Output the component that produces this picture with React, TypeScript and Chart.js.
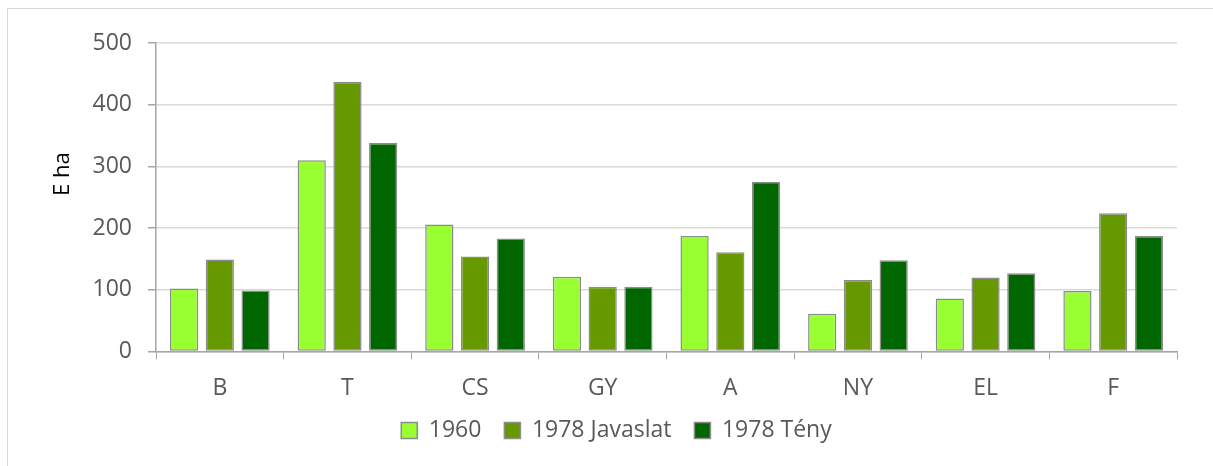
import React, { useEffect, useRef } from "react";
import { Chart, registerables } from "chart.js";

Chart.register(...registerables);

const categories = ["B", "T", "CS", "GY", "A", "NY", "EL", "F"];
const seriesNames = ["1960", "1978 Javaslat", "1978 Tény"];
const values1960 = [102, 310, 206, 121, 187, 61, 86, 98];
const valuesJavaslat = [149, 437, 154, 105, 161, 116, 120, 224];
const valuesTeny = [99, 338, 183, 105, 275, 148, 127, 187];
const seriesColors = ["#99FF33", "#669900", "#006600"];
const yAxisTitle = "E ha";
const yMin = 0;
const yMax = 500;
const yStep = 100;

const FONT = "'Open Sans', sans-serif";

const yTitlePlugin = {
  id: "yTitlePlugin",
  afterDraw(chart: any) {
    const { ctx, chartArea } = chart;
    ctx.save();
    ctx.font = `22px ${FONT}`;
    ctx.fillStyle = "#000000";
    ctx.textAlign = "center";
    ctx.textBaseline = "middle";
    const y = chartArea.top + (chartArea.bottom - chartArea.top) * 0.425;
    ctx.translate(63, y);
    ctx.rotate(-Math.PI / 2);
    ctx.fillText(yAxisTitle, 0, 0);
    ctx.restore();
  },
};

export default function App() {
  const canvasRef = useRef<HTMLCanvasElement | null>(null);

  useEffect(() => {
    if (!canvasRef.current) return;
    const allValues = [values1960, valuesJavaslat, valuesTeny];
    const chart = new Chart(canvasRef.current, {
      type: "bar",
      data: {
        labels: categories,
        datasets: allValues.map((vals, i) => ({
          label: seriesNames[i],
          data: vals,
          backgroundColor: seriesColors[i],
          borderColor: "#8c8c8c",
          borderWidth: 1.5,
          borderSkipped: false,
          categoryPercentage: 0.84,
          barPercentage: 0.79,
        })),
      },
      options: {
        animation: false,
        responsive: false,
        maintainAspectRatio: false,
        layout: { padding: { left: 56, right: 36, top: 43, bottom: 14 } },
        plugins: {
          tooltip: { enabled: false },
          legend: {
            position: "bottom",
            labels: {
              font: { family: FONT, size: 23 },
              color: "#595959",
              boxWidth: 16,
              boxHeight: 16,
              padding: 23,
            },
          },
        },
        scales: {
          x: {
            grid: {
              offset: true,
              drawOnChartArea: false,
              drawTicks: true,
              tickLength: 8,
              tickColor: "#a6a6a6",
            },
            border: { color: "#a6a6a6", width: 1.5 },
            ticks: {
              font: { family: FONT, size: 23 },
              color: "#595959",
              padding: 15,
            },
            afterFit(scale: any) {
              scale.height = 44.5;
            },
          },
          y: {
            min: yMin,
            max: yMax,
            ticks: {
              stepSize: yStep,
              font: { family: FONT, size: 23 },
              color: "#595959",
              padding: 16,
            },
            grid: {
              color: "#d9d9d9",
              lineWidth: 1.5,
              tickLength: 8,
              tickColor: "#a6a6a6",
            },
            border: { color: "#a6a6a6", width: 1.5 },
            afterFit(scale: any) {
              scale.width = 100;
            },
          },
        },
      },
      plugins: [yTitlePlugin],
    });
    return () => chart.destroy();
  }, []);

  return (
    <div>
      <div
        style={{
          position: "fixed",
          left: 7,
          top: 8,
          width: 1206,
          height: 458,
          borderTop: "1.5px solid #d9d9d9",
          borderLeft: "1.5px solid #d9d9d9",
          boxSizing: "border-box",
        }}
      />
      <canvas
        ref={canvasRef}
        width={1213}
        height={466}
        style={{ position: "fixed", left: 0, top: 0, width: 1213, height: 466 }}
      />
    </div>
  );
}
